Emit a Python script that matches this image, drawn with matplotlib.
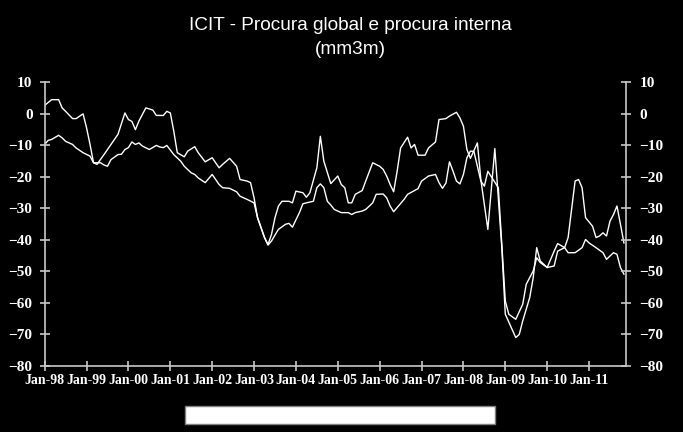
import matplotlib
matplotlib.use("Agg")
import matplotlib.pyplot as plt
import numpy as np

# meses desde Jan-98 (0 = Jan-98)
meses_global = [0, 2, 4, 5, 6, 8, 9, 11, 12, 13, 14, 15, 17, 19, 21, 23, 24, 25, 26, 27,
                29, 31, 32, 34, 35, 36, 37, 38, 40, 41, 43, 44, 46, 48, 49, 50, 51, 53, 55, 56,
                58, 59, 60, 61, 63, 64, 65, 66, 67, 68, 70, 71, 72, 74, 75, 76, 78, 79, 80, 82,
                84, 85, 86, 87, 88, 89, 91, 92, 94, 96, 97, 98, 99, 100, 101, 102, 104, 105, 106, 107,
                109, 110, 112, 113, 115, 116, 118, 119, 120, 121, 122, 124, 125, 127, 129, 131, 132, 135, 136, 137,
                139, 140, 141, 142, 144, 146, 147, 149, 150, 152, 153, 154, 155, 157, 158, 159, 160, 161, 162, 163,
                164, 165, 166]
procura_global = [2.6, 4.4, 4.4, 1.8, 0.7, -1.6, -1.6, -0.1, -4.5, -9.8, -15.6, -16.1, -13.0, -9.8, -6.6, 0.2, -1.9, -2.5, -5.1, -2.4,
                  1.8, 1.1, -0.6, -0.6, 0.7, 0.2, -5.6, -12.4, -13.7, -11.9, -10.5, -12.4, -15.3, -14.0, -15.6, -17.2, -16.1, -14.2, -16.7, -20.9,
                  -21.4, -21.9, -26.7, -33.0, -39.3, -41.5, -38.3, -33.0, -29.3, -27.8, -27.8, -28.3, -24.6, -25.1, -26.5, -25.1, -17.2, -7.2, -15.1, -22.2,
                  -19.8, -22.5, -23.5, -28.3, -28.3, -25.6, -24.4, -21.4, -15.6, -16.7, -17.7, -19.8, -22.5, -24.8, -18.3, -10.9, -7.5, -10.9, -9.8, -13.2,
                  -13.2, -10.9, -9.0, -1.9, -1.6, -0.8, 0.4, -1.4, -4.0, -11.4, -14.2, -9.3, -21.0, -36.7, -11.1, -42.5, -63.6, -71.0, -70.0, -65.7,
                  -58.3, -52.0, -42.5, -46.7, -48.8, -43.6, -41.2, -42.5, -39.3, -21.4, -20.9, -23.5, -33.0, -35.7, -39.3, -38.8, -37.8, -38.8, -34.1, -32.0,
                  -29.3, -35.1, -41.0]

meses_interna = [0, 1, 2, 4, 5, 6, 8, 9, 11, 13, 14, 16, 17, 18, 19, 21, 22, 23, 24, 25,
                 26, 27, 28, 30, 32, 33, 34, 35, 37, 39, 40, 42, 43, 44, 46, 48, 50, 51, 53, 55,
                 56, 58, 60, 61, 63, 64, 65, 66, 67, 69, 70, 71, 73, 74, 75, 77, 78, 79, 80, 81,
                 82, 83, 85, 87, 88, 89, 91, 92, 94, 95, 97, 98, 99, 100, 101, 103, 104, 106, 107, 108,
                 110, 112, 113, 114, 115, 116, 117, 118, 119, 120, 121, 122, 123, 125, 126, 127, 130, 132, 133, 135,
                 137, 138, 140, 141, 142, 144, 146, 147, 149, 150, 152, 154, 155, 156, 158, 160, 161, 163, 164, 165,
                 166]
procura_interna = [-9.8, -8.5, -8.2, -6.9, -7.7, -8.8, -9.8, -10.9, -12.4, -13.5, -15.6, -15.6, -16.3, -16.7, -14.6, -13.0, -12.9, -11.4, -10.8, -9.0,
                   -9.8, -9.3, -10.3, -11.4, -10.1, -10.6, -10.8, -10.1, -13.0, -15.1, -16.7, -18.8, -19.3, -20.4, -21.9, -19.3, -22.5, -23.5, -23.7, -24.8,
                   -26.2, -27.2, -28.3, -33.0, -39.3, -41.7, -40.4, -38.5, -36.7, -35.1, -34.8, -36.0, -31.4, -28.6, -28.3, -27.8, -23.5, -22.3, -23.5, -27.8,
                   -29.0, -30.4, -31.4, -31.4, -32.0, -31.4, -30.9, -30.4, -28.3, -25.6, -25.5, -26.7, -29.3, -31.1, -29.8, -27.2, -25.6, -24.4, -23.8, -21.4,
                   -19.8, -19.3, -21.9, -23.7, -22.0, -15.3, -18.2, -21.4, -22.3, -19.3, -14.0, -11.9, -12.0, -21.4, -23.0, -18.3, -23.5, -59.4, -63.6, -65.2,
                   -60.4, -54.1, -49.9, -45.7, -47.2, -48.8, -48.3, -43.6, -42.5, -44.1, -44.1, -42.5, -39.9, -41.0, -42.5, -44.1, -46.2, -44.1, -44.6, -48.8,
                   -50.9]

anos = ["Jan-98", "Jan-99", "Jan-00", "Jan-01", "Jan-02", "Jan-03", "Jan-04",
        "Jan-05", "Jan-06", "Jan-07", "Jan-08", "Jan-09", "Jan-10", "Jan-11"]

cinza = "#c8c8c8"

fig = plt.figure(figsize=(6.83, 4.32), dpi=100, facecolor="black")
ax = fig.add_axes([0.0654, 0.1528, 0.8512, 0.6574], facecolor="black")

ax.plot(meses_global, procura_global, color="white", lw=1.0, label="Procura global")
ax.plot(meses_interna, procura_interna, color="white", lw=1.0, label="Procura interna")

ax.set_xlim(0, 166.6)
ax.set_ylim(-80, 10)

ax.set_xticks(np.arange(len(anos)) * 12)
ax.set_xticklabels(anos)
ax.set_yticks(np.arange(-80, 11, 10))

ax2 = ax.twinx()
ax2.set_ylim(-80, 10)
ax2.set_yticks(np.arange(-80, 11, 10))

for a in (ax, ax2):
    for s in a.spines.values():
        s.set_visible(False)
ax.spines["left"].set_visible(True)
ax.spines["bottom"].set_visible(True)
ax2.spines["right"].set_visible(True)
for s in (ax.spines["left"], ax.spines["bottom"], ax2.spines["right"]):
    s.set_color(cinza)
    s.set_linewidth(1.2)

serif = ["Liberation Serif", "DejaVu Serif"]
ax.tick_params(axis="both", direction="inout", length=7.5, width=1.2, color=cinza,
               labelcolor="white", labelsize=11)
ax.tick_params(axis="y", pad=5)
ax.tick_params(axis="x", pad=2, labelsize=10)
ax2.tick_params(axis="y", direction="inout", length=7.5, width=1.2, color=cinza,
                labelcolor="white", labelsize=11, pad=6)
for lab in ax.get_xticklabels() + ax.get_yticklabels() + ax2.get_yticklabels():
    lab.set_fontfamily(serif)
    lab.set_fontweight("bold")

titulo_font = ["Liberation Sans", "DejaVu Sans"]
fig.text(0.513, 0.94, "ICIT - Procura global e procura interna", ha="center", va="center",
         color="white", fontsize=13.7, family=titulo_font)
fig.text(0.513, 0.886, "(mm3m)", ha="center", va="center",
         color="white", fontsize=13.7, family=titulo_font)

leg = ax.legend(loc="lower left", bbox_to_anchor=(0.241, -0.204, 0.533, 0.067), mode="expand",
                ncol=2, fontsize=7, frameon=True, fancybox=False, borderaxespad=0,
                facecolor="white", edgecolor="#808080", framealpha=1, labelcolor="white")
leg.get_frame().set_linewidth(1)

fig.savefig("out.png", dpi=100, facecolor="black")
